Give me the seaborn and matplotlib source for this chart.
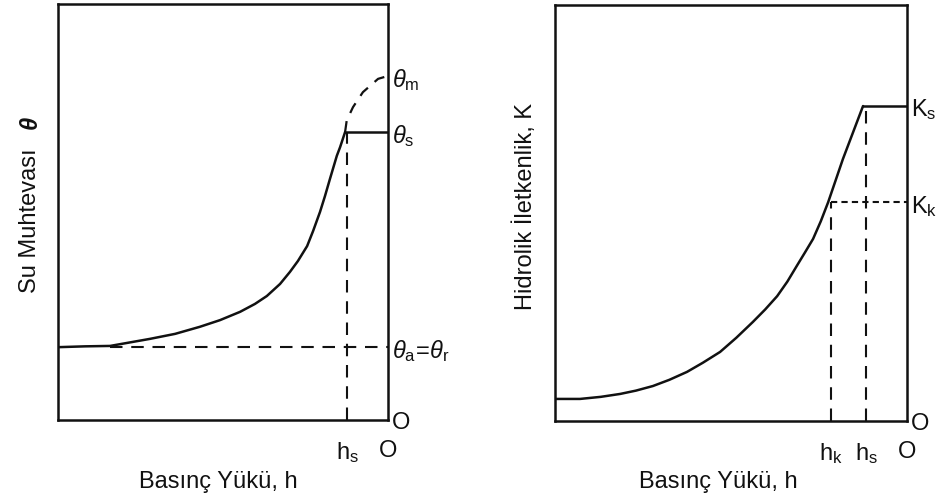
import matplotlib
matplotlib.use("Agg")
import matplotlib.pyplot as plt
import seaborn as sns

# -----------------------------
# Data
# -----------------------------
# left panel: water content curve theta(h)
theta_h = [-100, -91.8, -84.2, -72.1, -64.5, -57.0, -50.9, -44.8, -40.3, -36.7, -32.7, -29.7,
           -27.3, -24.5, -22.7, -20.6, -19.1, -17.6, -16.7, -15.5, -14.5, -13.0]
theta_vals = [0.175, 0.177, 0.178, 0.195, 0.207, 0.224, 0.240, 0.26, 0.279, 0.298, 0.327, 0.356,
              0.382, 0.418, 0.454, 0.5, 0.538, 0.579, 0.603, 0.635, 0.656, 0.692]
# dashed extension up to theta_m
theta_m_h = [-13.0, -12.5, -10.6, -7.6, -3.0, 0.0]
theta_m_vals = [0.692, 0.72, 0.752, 0.788, 0.82, 0.827]
theta_s = 0.692
theta_r = 0.175
theta_m = 0.827
hs_left = -12.4
theta_r_start = -84.2

# right panel: hydraulic conductivity K(h)
k_h = [-100, -92.9, -87.0, -81.5, -77.0, -72.2, -67.5, -62.5, -58.0, -53.1, -48.5, -43.8,
       -40.3, -36.9, -34.0, -31.3, -29.0, -26.7, -24.5, -22.4, -18.2, -12.5]
k_vals = [0.053, 0.053, 0.058, 0.065, 0.073, 0.084, 0.099, 0.118, 0.140, 0.166, 0.200, 0.238,
          0.268, 0.300, 0.335, 0.373, 0.405, 0.4375, 0.48, 0.526, 0.63, 0.757]
k_s = 0.757
k_k = 0.526
hk_right = -21.6
hs_right = -11.6

left_yticks = [0, theta_r, theta_s, theta_m]
left_ylabels = ["O", r"$\theta_\mathrm{a}\!=\!\theta_\mathrm{r}$", r"$\theta_\mathrm{s}$", r"$\theta_\mathrm{m}$"]
left_xticks = [hs_left, 0]
left_xlabels = [r"$\mathrm{h}_\mathrm{s}$", "O"]

right_yticks = [0, k_k, k_s]
right_ylabels = ["O", r"$\mathrm{K}_\mathrm{k}$", r"$\mathrm{K}_\mathrm{s}$"]
right_xticks = [hk_right, hs_right, 0]
right_xlabels = [r"$\mathrm{h}_\mathrm{k}$", r"$\mathrm{h}_\mathrm{s}$", "O"]

# -----------------------------
# Style
# -----------------------------
sns.set_style("white")
plt.rcParams["font.family"] = ["Liberation Sans", "DejaVu Sans"]
plt.rcParams["mathtext.fontset"] = "custom"
plt.rcParams["mathtext.rm"] = "Liberation Sans"
plt.rcParams["mathtext.it"] = "Liberation Sans:italic"
plt.rcParams["mathtext.bf"] = "Liberation Sans:bold"

ink = "#111111"
long_dash = (0, (6.0, 4.2))
short_dash = (0, (3.0, 2.0))

fig = plt.figure(figsize=(9.41, 5.02), dpi=100)
ax1 = fig.add_axes([0.0616, 0.1614, 0.3507, 0.8287])
ax2 = fig.add_axes([0.5898, 0.1594, 0.3741, 0.8287])

# -----------------------------
# Left panel
# -----------------------------
sns.lineplot(x=theta_h, y=theta_vals, ax=ax1, color=ink, lw=1.8)
sns.lineplot(x=theta_m_h, y=theta_m_vals, ax=ax1, color=ink, lw=1.6, linestyle=(0, (5.0, 4.0)))
ax1.plot([theta_h[-1], 0], [theta_s, theta_s], color=ink, lw=1.8)
ax1.plot([theta_r_start, 0], [theta_r, theta_r], color=ink, lw=1.5, linestyle=long_dash)
ax1.plot([hs_left, hs_left], [0, theta_s], color=ink, lw=1.5, linestyle=long_dash)

# -----------------------------
# Right panel
# -----------------------------
sns.lineplot(x=k_h, y=k_vals, ax=ax2, color=ink, lw=1.8)
ax2.plot([k_h[-1], 0], [k_s, k_s], color=ink, lw=1.8)
ax2.plot([hk_right, 0], [k_k, k_k], color=ink, lw=1.5, linestyle=short_dash)
ax2.plot([hk_right, hk_right], [0, k_k], color=ink, lw=1.5, linestyle=long_dash)
ax2.plot([hs_right, hs_right], [0, k_s], color=ink, lw=1.5, linestyle=long_dash)

for ax, yt, yl, xt, xl in [(ax1, left_yticks, left_ylabels, left_xticks, left_xlabels),
                           (ax2, right_yticks, right_ylabels, right_xticks, right_xlabels)]:
    ax.set_xlim(-100, 0)
    ax.set_ylim(0, 1)
    ax.yaxis.tick_right()
    ax.set_yticks(yt)
    ax.set_yticklabels(yl)
    ax.set_xticks(xt)
    ax.set_xticklabels(xl)
    ax.tick_params(length=0, labelsize=17, colors=ink)
    ax.tick_params(axis="x", pad=14)
    ax.tick_params(axis="y", pad=3)
    for sp in ax.spines.values():
        sp.set_visible(True)
        sp.set_color(ink)
        sp.set_linewidth(1.8)
    ax.set_xlabel("")
    ax.set_ylabel("")

# axis titles
fig.text(218 / 941, 1 - 482 / 502, "Basınç Yükü, h", ha="center", va="center", fontsize=17, color=ink)
fig.text(718 / 941, 1 - 482 / 502, "Basınç Yükü, h", ha="center", va="center", fontsize=17, color=ink)
fig.text(30 / 941, 1 - 221 / 502, "Su Muhtevası", ha="center", va="center", rotation=90, fontsize=17, color=ink)
fig.text(30 / 941, 1 - 122 / 502, "θ", ha="center", va="center", rotation=90, fontsize=17,
         fontweight="bold", fontstyle="italic", color=ink)
fig.text(525 / 941, 1 - 207 / 502, "Hidrolik İletkenlik, K", ha="center", va="center", rotation=90,
         fontsize=17, color=ink)

fig.savefig("out.png", dpi=100)
